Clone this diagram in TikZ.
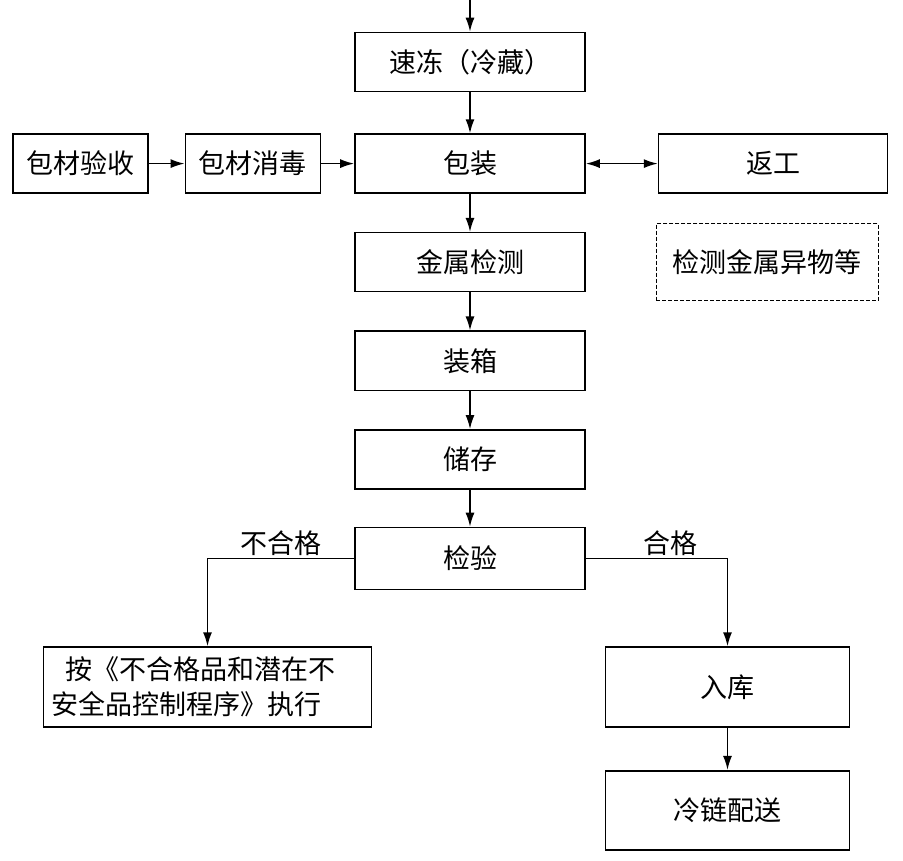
\documentclass[tikz,border=0pt]{standalone}
\usepackage{fontspec}
\setmainfont{Noto Sans CJK SC}
\usetikzlibrary{positioning, arrows.meta}

\begin{document}
\begin{tikzpicture}[x=1pt, y=-1pt,
    stage/.style={rectangle,
      draw,
      line width=1.6pt,
      minimum width=230pt,
      minimum height=59pt,
      inner sep=2pt,
      font=\fontsize{27}{35}\selectfont},
    link/.style={-{Latex[length=14pt,width=9pt]}, line width=1.6pt},
    tag/.style={font=\fontsize{27}{35}\selectfont, inner sep=2pt}]

  \useasboundingbox (0,0) rectangle (903,861);

% MAIN LINE

  \node[stage] (freeze) at (470,62) {速冻（冷藏）};
  \node[stage, below=41pt of freeze] (pack) {包装};
  \node[stage, below=38pt of pack] (metal) {金属检测};
  \node[stage, below=38pt of metal] (boxing) {装箱};
  \node[stage, below=38pt of boxing] (store) {储存};
  \node[stage, minimum height=62pt, below=37pt of store] (check) {检验};

% SIDE STEPS

  \node[stage, minimum width=135pt, left=33pt of pack] (disinfect) {包材消毒};
  \node[stage, minimum width=135pt, left=36pt of disinfect] (accept) {包材验收};
  \node[stage, minimum width=229pt, right=72pt of pack] (rework) {返工};
  \node[stage, dashed, dash pattern=on 4pt off 2pt, line width=1.2pt,
    minimum width=222pt, minimum height=77pt,
    right=70pt of metal] (detect) {检测金属异物等};

% RESULTS

  \node[stage, minimum width=328pt, minimum height=80pt,
    text width=312pt, inner xsep=8pt, align=left,
    below=56pt of check, xshift=-262.5pt] (reject)
    {\hspace*{14pt}按《不合格品和潜在不\\安全品控制程序》执行};
  \node[stage, minimum width=244pt, minimum height=80pt,
    below=56pt of check, xshift=257.5pt] (stock) {入库};
  \node[stage, minimum width=244pt, minimum height=79pt,
    below=42pt of stock] (deliver) {冷链配送};

% FLOW

  \coordinate (entry) at (470,0);
  \draw[link] (entry) -- (freeze);
  \draw[link] (freeze) -- (pack);
  \draw[link] (pack) -- (metal);
  \draw[link] (metal) -- (boxing);
  \draw[link] (boxing) -- (store);
  \draw[link] (store) -- (check);

  \draw[link] (accept) -- (disinfect);
  \draw[link] (disinfect) -- (pack);
  \draw[link, {Latex[length=14pt,width=9pt]}-{Latex[length=14pt,width=9pt]}]
    (pack) -- (rework);

  \draw[link] (check.west) -| node[tag, pos=0.25, above] {不合格} (reject.north);
  \draw[link] (check.east) -| node[tag, pos=0.3, above] {合格} (stock.north);
  \draw[link] (stock) -- (deliver);

\end{tikzpicture}
\end{document}
